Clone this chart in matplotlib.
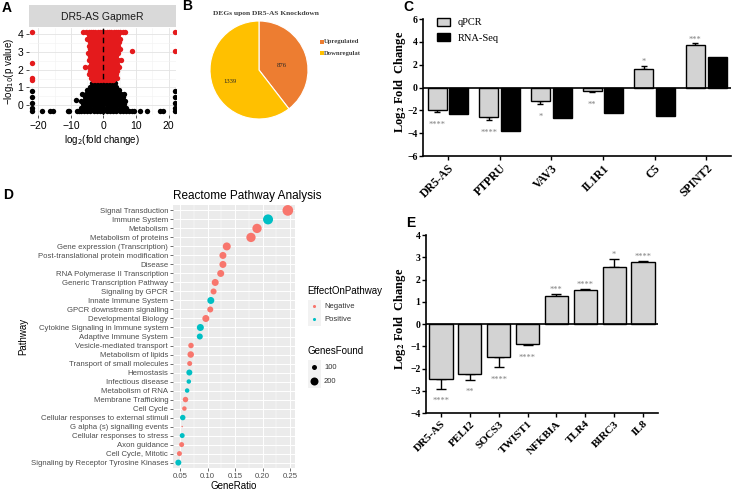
import numpy as np
import matplotlib.pyplot as plt
from matplotlib.patches import Rectangle

# ---------------- data ----------------
# A: volcano plot
red_x = [-6.2, -5.4, -4.6, -3.9, -3.2, -2.5, -1.8, -1.1, -0.4, 0.3, 1.0, 1.7, 2.4, 3.1, 3.8, 4.5, 5.2, 5.9, 6.5, -22, 22,
         -4.5, -3.6, -2.7, -1.8, -0.9, 0.0, 0.9, 1.8, 2.7, 3.6, 4.5,
         -5.0, -4.1, -3.2, -2.3, -1.4, -0.5, 0.4, 1.3, 2.2, 3.1, 4.0, 5.0,
         -4.2, -3.3, -2.4, -1.5, -0.6, 0.3, 1.2, 2.1, 3.0, 3.9, 4.8,
         -4.6, -3.7, -2.8, -1.9, -1.0, -0.1, 0.8, 1.7, 2.6, 3.5, 4.4,
         -4.0, -3.1, -2.2, -1.3, -0.4, 0.5, 1.4, 2.3, 3.2, 4.1, 5.2,
         8.7, 22,
         -4.8, -3.6, -2.7, -1.8, -0.9, 0.0, 0.9, 1.8, 2.7, 3.6, 4.6,
         -4.2, -3.2, -2.3, -1.4, -0.5, 0.4, 1.3, 2.2, 3.1, 4.0,
         -4.6, -3.7, -2.8, -1.9, -1.0, -0.1, 0.8, 1.7, 2.6, 3.5, 4.5, 5.4,
         -22,
         -3.9, -3.0, -2.1, -1.2, -0.3, 0.6, 1.5, 2.4, 3.3, 4.2,
         -5.6, -4.5, -3.5, -2.6, -1.7, -0.8, 0.1, 1.0, 1.9, 2.8, 3.7, 4.7,
         -4.0, -3.1, -2.2, -1.3, -0.4, 0.5, 1.4, 2.3, 3.2, 4.1,
         -4.4, -3.5, -2.6, -1.7, -0.8, 0.1, 1.0, 1.9, 2.8, 3.7,
         -3.8, -2.9, -2.0, -1.1, -0.2, 0.7, 1.6, 2.5, 3.4, 4.3, -22,
         -3.2, -2.3, -1.4, -0.5, 0.4, 1.3, 2.2, 3.0, -22]
red_y = ([4.15] * 21 + [3.95] * 11 + [3.75] * 12 + [3.55] * 11 + [3.35] * 11 + [3.15] * 11
         + [3.05] * 2 + [2.95] * 11 + [2.75] * 10 + [2.55] * 12 + [2.4] + [2.35] * 10
         + [2.15] * 12 + [1.95] * 10 + [1.75] * 10 + [1.55] * 11 + [1.4] * 9)

black_x = [-3.4, -2.5, -1.6, -0.7, 0.2, 1.1, 2.0, 2.9, 3.6,
           -4.2, -3.3, -2.4, -1.5, -0.6, 0.3, 1.2, 2.1, 3.0, 3.9,
           -5.0, -4.1, -3.2, -2.3, -1.4, -0.5, 0.4, 1.3, 2.2, 3.1, 4.0, 4.9,
           -22, 22,
           -6.5, -5.5, -4.6, -3.7, -2.8, -1.9, -1.0, -0.1, 0.8, 1.7, 2.6, 3.5, 4.4, 5.3, 6.2,
           -5.8, -4.9, -4.0, -3.1, -2.2, -1.3, -0.4, 0.5, 1.4, 2.3, 3.2, 4.1, 5.0, 5.9, -22, 22,
           -8.5,
           -6.8, -5.9, -5.0, -4.1, -3.2, -2.3, -1.4, -0.5, 0.4, 1.3, 2.2, 3.1, 4.0, 4.9, 5.8, 6.7,
           -22, 22,
           -6.3, -5.4, -4.5, -3.6, -2.7, -1.8, -0.9, 0.0, 0.9, 1.8, 2.7, 3.6, 4.5, 5.4, 6.3,
           -7, -6, -5, -4, -3, -2, -1, 0, 1, 2, 3, 4, 5, 6, 7, -22, 22,
           -22, -19, -16.5, -15.5, -11, -10.5, -8.2, -7.5, -6.8, -6, -5, -4, -3, -2, -1, 0,
           1, 2, 3, 4, 5, 6, 7, 7.8, 8.8, 9.5, 11.2, 13.4, 17.4, 18.3, 22]
black_y = ([1.25] * 9 + [1.05] * 10 + [0.85] * 12 + [0.8] * 2 + [0.65] * 15 + [0.45] * 16
           + [0.3] + [0.25] * 16 + [0.1] * 2 + [0.05] * 15 + [-0.15] * 17 + [-0.3] * 31)

# B: DEGs pie
deg_labels = ['Upregulated', 'Downregulated']
deg_counts = [876, 1339]

# C: qPCR vs RNA-Seq
c_genes = ['DR5-AS', 'PTPRU', 'VAV3', 'IL1R1', 'C5', 'SPINT2']
c_qpcr = [-2.0, -2.55, -1.15, -0.3, 1.65, 3.75]
c_qpcr_err = [0.15, 0.3, 0.3, 0.1, 0.25, 0.15]
c_rnaseq = [-2.35, -3.85, -2.7, -2.2, -2.5, 2.65]
c_stars = ['****', '****', '*', '**', '*', '***']

# D: Reactome pathway analysis
pathways = ['Signal Transduction', 'Immune System', 'Metabolism', 'Metabolism of proteins',
            'Gene expression (Transcription)', 'Post-translational protein modification',
            'Disease', 'RNA Polymerase II Transcription', 'Generic Transcription Pathway',
            'Signaling by GPCR', 'Innate Immune System', 'GPCR downstream signalling',
            'Developmental Biology', 'Cytokine Signaling in Immune system',
            'Adaptive Immune System', 'Vesicle-mediated transport', 'Metabolism of lipids',
            'Transport of small molecules', 'Hemostasis', 'Infectious disease',
            'Metabolism of RNA', 'Membrane Trafficking', 'Cell Cycle',
            'Cellular responses to external stimuli', 'G alpha (s) signalling events',
            'Cellular responses to stress', 'Axon guidance', 'Cell Cycle, Mitotic',
            'Signaling by Receptor Tyrosine Kinases']
gene_ratio = [0.246, 0.21, 0.19, 0.179, 0.135, 0.128, 0.128, 0.124, 0.114, 0.111, 0.106,
              0.105, 0.097, 0.087, 0.086, 0.070, 0.0695, 0.0676, 0.067, 0.066, 0.063, 0.060,
              0.058, 0.055, 0.054, 0.054, 0.053, 0.049, 0.047]
effect = ['Negative', 'Positive', 'Negative', 'Negative', 'Negative', 'Negative', 'Negative',
          'Negative', 'Negative', 'Negative', 'Positive', 'Negative', 'Negative', 'Positive',
          'Positive', 'Negative', 'Negative', 'Negative', 'Positive', 'Positive', 'Positive',
          'Negative', 'Negative', 'Positive', 'Negative', 'Positive', 'Negative', 'Negative',
          'Positive']
genes_found = [319, 286, 254, 254, 200, 163, 163, 163, 163, 130, 163, 130, 163, 163, 130,
               114, 146, 100, 130, 87, 87, 114, 87, 114, 27, 100, 100, 100, 130]

# E: qPCR validation
e_genes = ['DR5-AS', 'PELI2', 'SOCS3', 'TWIST1', 'NFKBIA', 'TLR4', 'BIRC3', 'IL8']
e_vals = [-2.45, -2.25, -1.5, -0.9, 1.25, 1.52, 2.55, 2.8]
e_err = [0.45, 0.25, 0.45, 0.05, 0.08, 0.05, 0.35, 0.05]
e_stars = ['****', '**', '****', '****', '***', '****', '*', '****']

# ---------------- layout helpers ----------------
W, H = 734, 490


def rect(x0, y0, x1, y1):
    return [x0 / W, 1 - y1 / H, (x1 - x0) / W, (y1 - y0) / H]


def ftext(x, y, s, **kw):
    fig.text(x / W, 1 - y / H, s, **kw)


SERIF = 'Liberation Serif'
SANS = 'Liberation Sans'
plt.rcParams['font.family'] = SANS

fig = plt.figure(figsize=(7.34, 4.9), dpi=100)

# ---------------- A: volcano ----------------
strip = fig.add_axes(rect(29, 5, 176, 27))
strip.set_facecolor('#D9D9D9')
strip.set_xticks([]); strip.set_yticks([])
for s in strip.spines.values():
    s.set_visible(False)
strip.text(0.5, 0.45, 'DR5-AS GapmeR', ha='center', va='center', fontsize=7.5, color='#1A1A1A')

axA = fig.add_axes(rect(29, 28, 176, 115))
axA.scatter(black_x, black_y, s=15, color='black', lw=0, zorder=3)
axA.scatter(red_x, red_y, s=15, color='#E41A1C', lw=0, zorder=3)
axA.axvline(0, color='black', ls=(0, (4, 2.5)), lw=1.0, zorder=4)
axA.set_xlim(-22.9, 22.3)
axA.set_ylim(-0.55, 4.35)
axA.set_xticks([-20, -10, 0, 10, 20])
axA.set_yticks([0, 1, 2, 3, 4])
axA.set_xticks([-15, -5, 5, 15], minor=True)
axA.set_yticks([0.5, 1.5, 2.5, 3.5], minor=True)
axA.grid(True, which='major', color='#E3E3E3', lw=0.6)
axA.grid(True, which='minor', color='#F2F2F2', lw=0.4)
axA.set_axisbelow(True)
for s in axA.spines.values():
    s.set_visible(False)
axA.tick_params(which='major', length=2.5, width=0.6, color='#333333', labelsize=7.5, pad=1.5)
axA.tick_params(which='minor', length=0)
axA.set_xlabel('log$_2$(fold change)', fontsize=7, labelpad=2)
axA.set_ylabel('\u2212log$_{10}$(p value)', fontsize=7, labelpad=1)
ftext(2, 8, 'A', fontsize=10, fontweight='bold', va='center')

# ---------------- B: pie ----------------
axB = fig.add_axes(rect(180, 0, 360, 130))
pie_colors = ['#ED7D31', '#FFC000']
axB.pie(deg_counts, colors=pie_colors, startangle=90, counterclock=False,
        center=(79, 60), radius=49, frame=True,
        wedgeprops=dict(edgecolor='white', linewidth=0.8))
axB.set_xlim(0, 180)
axB.set_ylim(0, 130)
axB.set_aspect('auto')
axB.axis('off')
axB.text(102, 65, str(deg_counts[0]), fontsize=4.8, family=SERIF, ha='center', va='center',
         color='#262626')
axB.text(50, 49, str(deg_counts[1]), fontsize=4.8, family=SERIF, ha='center', va='center',
         color='#262626')
axB.text(86, 117, 'DEGs upon DR5-AS Knockdown', fontsize=5.4, family=SERIF, fontweight='bold',
         ha='center', va='center', color='#404040')
for i, (lab, col) in enumerate(zip(deg_labels, pie_colors)):
    yy = 88 - 11 * i
    axB.scatter([141.5], [yy], marker='s', s=5, color=col, lw=0, clip_on=False)
    axB.text(144, yy, lab, fontsize=4.8, family=SERIF, fontweight='bold', color='#404040',
             va='center', clip_on=True)
ftext(182, 6, 'B', fontsize=10, fontweight='bold', va='center')

# ---------------- C: qPCR vs RNA-Seq ----------------
axC = fig.add_axes(rect(423, 19, 731, 156))
xc = np.arange(len(c_genes))
bw = 0.37
lo = [e if v < 0 else 0 for v, e in zip(c_qpcr, c_qpcr_err)]
hi = [e if v > 0 else 0 for v, e in zip(c_qpcr, c_qpcr_err)]
axC.bar(xc - 0.21, c_qpcr, bw, color='#D3D3D3', edgecolor='black', lw=1.0, label='qPCR', zorder=3)
axC.bar(xc + 0.21, c_rnaseq, bw, color='black', edgecolor='black', lw=1.0, label='RNA-Seq', zorder=3)
axC.errorbar(xc - 0.21, c_qpcr, yerr=[lo, hi], fmt='none', ecolor='black', elinewidth=1.0,
             capsize=2.5, capthick=1.0, zorder=2)
for x, v, e, st in zip(xc, c_qpcr, c_qpcr_err, c_stars):
    if v < 0:
        axC.annotate(st, (x - 0.21, v - e), xytext=(0, -9), textcoords='offset points',
                     ha='center', va='center', fontsize=6, color='#7F7F7F', family=SERIF)
    else:
        axC.annotate(st, (x - 0.21, v + e), xytext=(0, 2.5), textcoords='offset points',
                     ha='center', va='center', fontsize=6, color='#7F7F7F', family=SERIF)
axC.axhline(0, color='black', lw=1.2, zorder=4)
axC.set_xlim(-0.484, 5.48)
axC.set_ylim(-6, 6)
axC.set_yticks([-6, -4, -2, 0, 2, 4, 6])
axC.set_xticks(xc)
axC.set_xticklabels(c_genes, rotation=45, ha='right', rotation_mode='anchor',
                    fontsize=8.5, fontweight='bold', family=SERIF)
for lab in axC.get_yticklabels():
    lab.set_family(SERIF); lab.set_fontweight('bold')
axC.tick_params(axis='y', labelsize=7, length=3, width=1.0, pad=1)
axC.tick_params(axis='x', length=3, width=1.0, pad=1.5)
axC.spines['top'].set_visible(False)
axC.spines['right'].set_visible(False)
axC.spines['left'].set_linewidth(1.2)
axC.spines['bottom'].set_linewidth(1.2)
axC.set_ylabel('Log$_{\\mathbf{2}}$ Fold  Change', fontsize=9, fontweight='bold',
               family=SERIF, math_fontfamily='stix', labelpad=2)
axC.yaxis.set_label_coords(-0.049, 0.54)
axC.legend(loc='upper left', bbox_to_anchor=(0.045, 1.01), frameon=False, borderpad=0,
           borderaxespad=0, prop=dict(family=SERIF, size=7.5), handlelength=1.25,
           handleheight=0.8, handletextpad=0.75, labelspacing=0.55)
ftext(403, 7, 'C', fontsize=10, fontweight='bold', va='center')

# ---------------- D: Reactome ----------------
axD = fig.add_axes(rect(173, 205, 295, 468))
n = len(pathways)
ypos = np.arange(n)[::-1]
col_map = {'Negative': '#F8766D', 'Positive': '#00BFC4'}


def gene_size(c):
    # ggplot-like area scale: diameter rescaled on sqrt(count), in points
    c = np.asarray(c, dtype=float)
    d_px = 1.5 + (10.7 - 1.5) * (np.sqrt(c) - np.sqrt(27)) / (np.sqrt(319) - np.sqrt(27))
    return (d_px * 0.72) ** 2


axD.set_facecolor('#EBEBEB')
axD.scatter(gene_ratio, ypos, s=gene_size(genes_found), c=[col_map[e] for e in effect],
            lw=0, zorder=3)
axD.set_xlim(0.0373, 0.259)
axD.set_ylim(-0.6, n - 0.4)
axD.set_xticks([0.05, 0.10, 0.15, 0.20, 0.25])
axD.set_xticklabels(['0.05', '0.10', '0.15', '0.20', '0.25'])
axD.set_xticks([0.075, 0.125, 0.175, 0.225], minor=True)
axD.set_yticks(ypos)
axD.set_yticklabels(pathways)
axD.grid(True, which='major', color='white', lw=0.7)
axD.grid(True, which='minor', axis='x', color='white', lw=0.35)
axD.set_axisbelow(True)
for s in axD.spines.values():
    s.set_visible(False)
axD.tick_params(which='major', length=2, width=0.5, color='#333333', labelsize=5.6,
                labelcolor='#4D4D4D', pad=1.5)
axD.tick_params(which='minor', length=0)
axD.set_xlabel('GeneRatio', fontsize=7, labelpad=0.5)
axD.set_ylabel('Pathway', fontsize=7, labelpad=2)
axD.set_title('Reactome Pathway Analysis', fontsize=8.5, loc='left', pad=4)
ftext(3, 195, 'D', fontsize=10, fontweight='bold', va='center')

# D legend
axL = fig.add_axes(rect(300, 280, 400, 395))
axL.set_xlim(300, 400)
axL.set_ylim(395, 280)
axL.axis('off')
axL.text(307, 291, 'EffectOnPathway', fontsize=7, va='center')
for i, lab in enumerate(['Negative', 'Positive']):
    yy = 306 + 13 * i
    axL.add_patch(Rectangle((307.5, yy - 6.5), 13, 13, color='#F2F2F2', lw=0))
    axL.scatter([314], [yy], s=5, color=col_map[lab], lw=0)
    axL.text(324, yy, lab, fontsize=5.5, va='center', color='#333333')
axL.text(307, 351, 'GenesFound', fontsize=7, va='center')
for i, val in enumerate([100, 200]):
    yy = 367 + 14 * i
    axL.add_patch(Rectangle((307.5, yy - 7), 13, 14, color='#F2F2F2', lw=0))
    axL.scatter([314], [yy], s=gene_size([val]), color='black', lw=0)
    axL.text(324, yy, str(val), fontsize=5.5, va='center', color='#333333')

# ---------------- E: qPCR ----------------
axE = fig.add_axes(rect(426, 235, 658, 413))
xe = np.arange(len(e_genes))
lo = [e if v < 0 else 0 for v, e in zip(e_vals, e_err)]
hi = [e if v > 0 else 0 for v, e in zip(e_vals, e_err)]
axE.bar(xe, e_vals, 0.8, color='#D3D3D3', edgecolor='black', lw=1.0, zorder=3)
axE.errorbar(xe, e_vals, yerr=[lo, hi], fmt='none', ecolor='black', elinewidth=1.0,
             capsize=3.5, capthick=1.0, zorder=2)
for x, v, e, st in zip(xe, e_vals, e_err, e_stars):
    if v < 0:
        axE.annotate(st, (x, v - e), xytext=(0, -9), textcoords='offset points',
                     ha='center', va='center', fontsize=6, color='#7F7F7F', family=SERIF)
    else:
        axE.annotate(st, (x, v + e), xytext=(0, 3), textcoords='offset points',
                     ha='center', va='center', fontsize=6, color='#7F7F7F', family=SERIF)
axE.axhline(0, color='black', lw=1.2, zorder=4)
axE.set_xlim(-0.52, 7.52)
axE.set_ylim(-4, 4)
axE.set_yticks(range(-4, 5))
axE.set_xticks(xe)
axE.set_xticklabels(e_genes, rotation=45, ha='right', rotation_mode='anchor',
                    fontsize=8, fontweight='bold', family=SERIF)
for lab in axE.get_yticklabels():
    lab.set_family(SERIF); lab.set_fontweight('bold')
axE.tick_params(axis='y', labelsize=7, length=3, width=1.0, pad=1)
axE.tick_params(axis='x', length=3, width=1.0, pad=1.5)
axE.spines['top'].set_visible(False)
axE.spines['right'].set_visible(False)
axE.spines['left'].set_linewidth(1.2)
axE.spines['bottom'].set_linewidth(1.2)
axE.set_ylabel('Log$_{\\mathbf{2}}$ Fold  Change', fontsize=9, fontweight='bold',
               family=SERIF, math_fontfamily='stix', labelpad=2)
axE.yaxis.set_label_coords(-0.078, 0.53)
ftext(406, 223, 'E', fontsize=10, fontweight='bold', va='center')

fig.savefig('out.png', dpi=100)
